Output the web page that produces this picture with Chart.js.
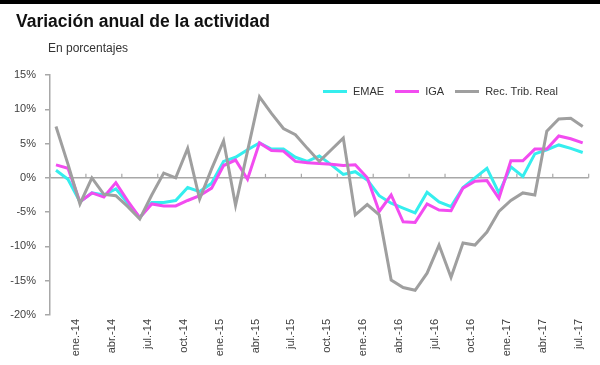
<!DOCTYPE html>
<html>
<head>
<meta charset="utf-8">
<script src="https://cdn.jsdelivr.net/npm/chart.js@4.4.1/dist/chart.umd.min.js"></script>
<style>
    body { margin: 0; width: 600px; height: 365px; background: #fff; position: relative; overflow: hidden;
           font-family: 'Liberation Sans', Arial, sans-serif; }
    #topBar { position: absolute; left: 0; top: 0; width: 600px; height: 4px; background: #000; }
    #title { position: absolute; left: 16px; top: 13px; font-size: 17.5px; line-height: 1; font-weight: bold; color: #111; white-space: nowrap; }
    #subtitle { position: absolute; left: 48px; top: 42px; font-size: 12px; line-height: 1; color: #333; white-space: nowrap; }
    #chartBox { position: absolute; left: 0; top: 0; width: 600px; height: 365px; }
    #legend { position: absolute; left: 323px; top: 85px; display: flex; align-items: center; font-size: 11px; color: #333; white-space: nowrap; }
    #legend .item { display: flex; align-items: center; margin-right: 11px; }
    #legend .swatch { width: 24px; height: 3px; margin-right: 6px; }
</style>
</head>
<body>
<div id="topBar"></div>
<div id="chartBox"><canvas id="activityChart"></canvas></div>
<div id="title">Variación anual de la actividad</div>
<div id="subtitle">En porcentajes</div>
<div id="legend"></div>
<script>
const months = [
    'ene.-14', 'feb.-14', 'mar.-14', 'abr.-14', 'may.-14', 'jun.-14', 'jul.-14', 'ago.-14', 'sep.-14', 'oct.-14', 'nov.-14', 'dic.-14',
    'ene.-15', 'feb.-15', 'mar.-15', 'abr.-15', 'may.-15', 'jun.-15', 'jul.-15', 'ago.-15', 'sep.-15', 'oct.-15', 'nov.-15', 'dic.-15',
    'ene.-16', 'feb.-16', 'mar.-16', 'abr.-16', 'may.-16', 'jun.-16', 'jul.-16', 'ago.-16', 'sep.-16', 'oct.-16', 'nov.-16', 'dic.-16',
    'ene.-17', 'feb.-17', 'mar.-17', 'abr.-17', 'may.-17', 'jun.-17', 'jul.-17', 'ago.-17', 'sep.-17'
]

const emae = [
    1.1, -0.2, -3.5, -2.2, -2.5, -1.6, -3.7, -5.8, -3.6, -3.6, -3.3, -1.4,
    -2.0, -0.8, 2.4, 3.0, 4.1, 5.1, 4.2, 4.2, 3.0, 2.4, 3.2, 1.9,
    0.5, 0.9, -0.3, -2.6, -3.7, -4.4, -5.1, -2.1, -3.5, -4.2, -1.4, 0.0,
    1.4, -2.2, 1.6, 0.2, 3.5, 4.1, 4.8, 4.3, 3.7
]

const iga = [
    1.9, 1.4, -3.5, -2.2, -2.8, -0.7, -3.4, -5.8, -3.8, -4.1, -4.1, -3.3,
    -2.6, -1.5, 1.8, 2.6, -0.2, 5.1, 4.0, 3.9, 2.4, 2.2, 2.1, 2.0,
    1.8, 1.9, 0.0, -4.9, -2.5, -6.4, -6.5, -3.8, -4.7, -4.8, -1.5, -0.5,
    -0.4, -3.0, 2.5, 2.5, 4.2, 4.2, 6.1, 5.7, 5.1
]

const recTribReal = [
    7.5, 2.0, -3.8, 0.0, -2.4, -2.6, -4.2, -6.0, -2.5, 0.7, 0.0, 4.3,
    -3.1, 1.3, 5.4, -4.0, 3.9, 11.8, 9.4, 7.2, 6.3, 4.3, 2.4, 4.1,
    5.8, -5.4, -3.9, -5.4, -14.9, -16.0, -16.4, -13.9, -9.8, -14.5, -9.5, -9.8,
    -7.9, -4.9, -3.3, -2.2, -2.5, 6.8, 8.6, 8.7, 7.5
]

const seriesNames = ['EMAE', 'IGA', 'Rec. Trib. Real']
const seriesColors = ['#35EEEE', '#F24CF0', '#9F9F9F']
const axisColor = '#A8A8A8'

// small tick marks sitting on the zero line, every 3 months
const zeroLineTicks = {
    id: 'zeroLineTicks',
    beforeDatasetsDraw(chart) {
        const { ctx, scales: { x, y } } = chart
        const y0 = y.getPixelForValue(0)
        ctx.save()
        ctx.strokeStyle = axisColor
        ctx.lineWidth = 1.2
        for (let i = 0; i <= months.length; i += 3) {
            const px = x.getPixelForValue(i - 0.5)
            ctx.beginPath()
            ctx.moveTo(px, y0)
            ctx.lineTo(px, y0 - 4)
            ctx.stroke()
        }
        ctx.restore()
    }
}

const values = [emae, iga, recTribReal]
const datasets = values.map((data, i) => ({
    label: seriesNames[i],
    data: data,
    borderColor: seriesColors[i],
    backgroundColor: seriesColors[i],
    borderWidth: 3,
    pointRadius: 0,
    tension: 0,
    order: 3 - i
}))

new Chart(document.getElementById('activityChart'), {
    type: 'line',
    data: { labels: months, datasets: datasets },
    plugins: [zeroLineTicks],
    options: {
        responsive: true,
        maintainAspectRatio: false,
        animation: false,
        layout: { padding: { top: 75, right: 9, left: 0, bottom: 0 } },
        plugins: {
            legend: { display: false },
            tooltip: { enabled: false }
        },
        scales: {
            x: {
                offset: true,
                afterFit: scale => { scale.height = 50 },
                grid: { display: false, drawTicks: false },
                border: { display: false },
                ticks: {
                    autoSkip: false,
                    minRotation: 90,
                    maxRotation: 90,
                    padding: 4,
                    labelOffset: 20,
                    color: '#404040',
                    font: { family: "'Liberation Sans', Arial, sans-serif", size: 11 },
                    callback: (v, i) => i % 3 === 0 ? months[i] : ''
                }
            },
            y: {
                min: -20,
                max: 15,
                afterFit: scale => { scale.width = 50 },
                border: { display: true, color: axisColor, width: 1.5 },
                grid: {
                    color: ctx => ctx.tick && ctx.tick.value === 0 ? axisColor : 'transparent',
                    lineWidth: 1.5,
                    tickColor: axisColor,
                    tickLength: 5
                },
                ticks: {
                    stepSize: 5,
                    padding: 9,
                    color: '#404040',
                    font: { family: "'Liberation Sans', Arial, sans-serif", size: 11 },
                    callback: v => v + '%'
                }
            }
        }
    }
})

const legendBox = document.getElementById('legend')
seriesNames.forEach((name, i) => {
    const item = document.createElement('div')
    item.className = 'item'
    const swatch = document.createElement('span')
    swatch.className = 'swatch'
    swatch.style.background = seriesColors[i]
    const text = document.createElement('span')
    text.textContent = name
    item.appendChild(swatch)
    item.appendChild(text)
    legendBox.appendChild(item)
})
</script>
</body>
</html>
